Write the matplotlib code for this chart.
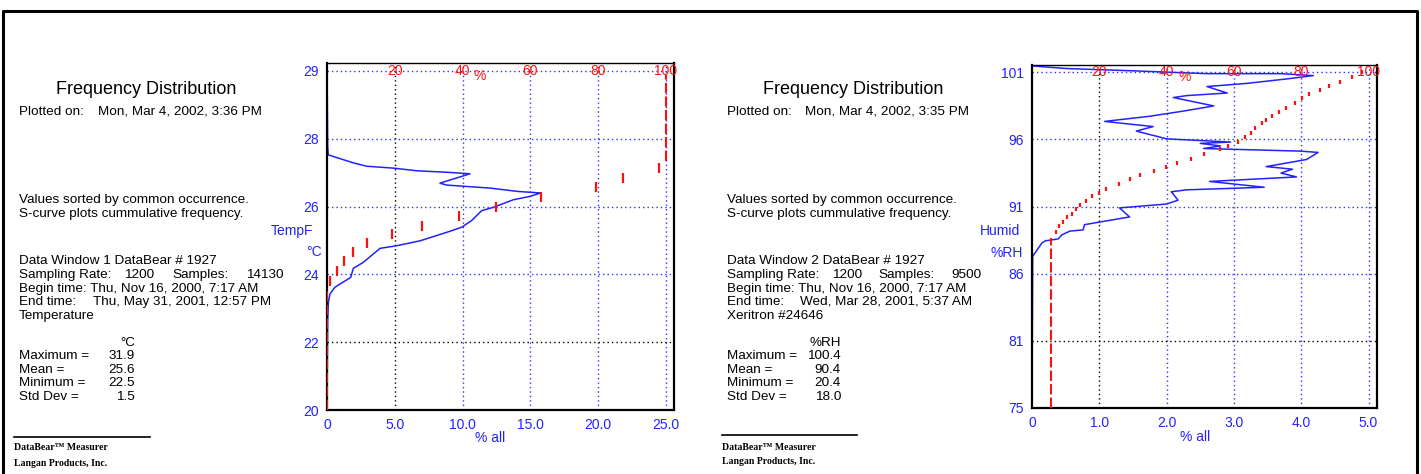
import matplotlib
matplotlib.use('Agg')
import matplotlib.pyplot as plt
import numpy as np
from matplotlib.lines import Line2D

# ---------------- data: left panel (temperature) ----------------
temp_freq_pct = [0.0, 0.05, 0.1, 1.94, 2.93, 4.89, 6.61, 8.83, 10.55, 8.33, 8.83, 12.02, 14.1, 15.76,
                 14.97, 13.74, 12.27, 11.4, 10.67, 9.93, 8.95, 6.86, 5.14, 3.91, 2.68, 1.94, 1.75,
                 0.59, 0.22, 0.1, 0.05, 0.0]
temp_freq_y = [29.2, 27.0, 26.77, 26.56, 26.47, 26.42, 26.35, 26.31, 26.27, 26.02, 25.97, 25.89, 25.80,
               25.76, 25.67, 25.58, 25.38, 25.29, 25.03, 24.85, 24.73, 24.49, 24.36, 24.29, 23.92,
               23.76, 23.52, 23.26, 23.08, 22.86, 22.37, 20.0]
temp_cum_pct = [0.9, 3.0, 5.0, 7.8, 11.7, 19.1, 27.9, 39.0, 49.9, 63.1, 79.3, 87.2, 97.9]
temp_cum_y = [23.43, 23.68, 23.95, 24.19, 24.42, 24.66, 24.89, 25.15, 25.40, 25.66, 25.91, 26.16, 26.42]
temp_cum_low = ([0.0, 0.0], [20.0, 23.2])
temp_cum_high = ([100.0, 100.0], [26.6, 28.9])
temp_yrange = (20.0, 29.0)
temp_ytick_labels = ["20", "22", "24", "26", "28", "29"]
temp_xticks = [0, 5, 10, 15, 20, 25]
temp_xtick_labels = ["0", "5.0", "10.0", "15.0", "20.0", "25.0"]

# ---------------- data: right panel (humidity) ----------------
hum_freq_pct = [0.0, 0.5, 1.6, 2.6, 3.7, 4.18, 3.8, 3.2, 2.6, 2.9, 2.3, 2.1, 2.7, 2.25, 1.75, 1.08,
                1.8, 1.55, 2.0, 2.95, 2.5, 2.8, 2.55, 3.98, 4.25, 4.08, 3.48, 3.87, 3.7, 3.93, 2.64,
                3.45, 2.3, 2.07, 2.17, 2.0, 1.3, 1.45, 1.0, 0.78, 0.76, 0.56, 0.44, 0.39, 0.2, 0.15,
                0.01, 0.0]
hum_freq_y = [101.9, 101.7, 101.5, 101.3, 101.3, 101.15, 100.9, 100.55, 100.3, 99.8, 99.6, 99.45,
              98.8, 98.4, 98.0, 97.6, 97.2, 96.85, 96.25, 96.0, 95.9, 95.7, 95.5, 95.3, 95.2, 94.65,
              94.1, 93.9, 93.6, 93.3, 92.95, 92.5, 92.3, 92.15, 91.5, 91.2, 90.9, 90.2, 89.8, 89.6,
              89.2, 89.1, 88.8, 88.5, 88.35, 88.2, 87.15, 75.4]
hum_cum_pct = [7.0, 8.0, 9.2, 10.4, 12.0, 13.2, 14.2, 15.9, 17.9, 20.0, 22.1, 26.0, 29.2, 32.0, 36.2,
               39.9, 43.2, 47.3, 51.2, 56.0, 58.2, 61.2, 63.3, 65.2, 66.2, 68.2, 69.4, 71.4, 73.4,
               75.4, 78.3, 80.3, 82.3, 85.5, 88.2, 91.4, 95.2, 98.2]
hum_cum_y = [89.0, 89.46, 89.77, 90.16, 90.42, 90.8, 91.14, 91.44, 91.8, 92.07, 92.4, 92.78, 93.12,
             93.43, 93.77, 94.1, 94.36, 94.67, 95.09, 95.43, 95.7, 96.04, 96.37, 96.73, 97.07, 97.46,
             97.72, 98.03, 98.36, 98.62, 99.06, 99.39, 99.7, 100.04, 100.35, 100.63, 101.07, 101.46]
hum_cum_low = ([5.7, 5.7], [75.4, 88.6])
hum_yrange = (75.4, 101.4)
hum_ytick_labels = ["75", "81", "86", "91", "96", "101"]
hum_xticks = [0, 1, 2, 3, 4, 5]
hum_xtick_labels = ["0", "1.0", "2.0", "3.0", "4.0", "5.0"]

pct_labels = ["20", "40", "60", "80", "100"]
pct_values = [20, 40, 60, 80, 100]

# ---------------- style ----------------
W, H = 1421, 474
BLUE = '#2222ff'
RED = '#ff1010'
FONT = 'Liberation Sans'
FS = 9.7

fig = plt.figure(figsize=(W / 100, H / 100), dpi=100)
fig.patch.set_facecolor('white')


def px(x, y):
    return x / W, 1 - y / H


def ftext(x, y, s, ha='left', size=FS, color='black', **kw):
    fx, fy = px(x, y)
    fig.text(fx, fy, s, ha=ha, va='center', fontsize=size, color=color, family=FONT, **kw)


def make_panel(left, top, right, bottom, xmax_tick, xlim_max, yrange, ylim_top,
               freq_pct, freq_y, cum_pct, cum_y, cum_lines, xticks, xtick_labels,
               ytick_labels, pct_sym_pos, mark_size):
    x0, y1 = px(left, top)
    x1, y0 = px(right, bottom)
    ax = fig.add_axes([x0, y0, x1 - x0, y1 - y0])
    ax.set_xlim(0, xlim_max)
    ax.set_ylim(yrange[0], ylim_top)
    yticks = np.linspace(yrange[0], yrange[1], 6)
    ax.set_yticks(yticks)
    ax.set_yticklabels(ytick_labels)
    ax.set_xticks(xticks)
    ax.set_xticklabels(xtick_labels)
    ax.tick_params(length=0, colors=BLUE, labelsize=10, pad=6)
    for lab in ax.get_xticklabels() + ax.get_yticklabels():
        lab.set_family(FONT)
    for s in ax.spines.values():
        s.set_color('black')
        s.set_linewidth(1.6)
        s.set_zorder(5)
    ax.spines['top'].set_linewidth(1.0)
    # grid lines
    for i, xv in enumerate(xticks[1:]):
        ax.axvline(xv, color='black' if i == 0 else '#3030ff', lw=1.0,
                   linestyle=(0, (1, 2.2)), zorder=1)
    for i, yv in enumerate(yticks[1:]):
        ax.axhline(yv, color='black' if i == 0 else '#3030ff', lw=1.0,
                   linestyle=(0, (1, 2.2)), zorder=1)
    # frequency curve
    ax.plot(freq_pct, freq_y, color=BLUE, lw=1.1, zorder=3)
    # cumulative (top scale, percent)
    ax2 = ax.twiny()
    ax2.set_xlim(0, xlim_max / xmax_tick * 100)
    ax2.set_ylim(ax.get_ylim())
    ax2.set_xticks([])
    for s in ax2.spines.values():
        s.set_visible(False)
    ax2.plot(cum_pct, cum_y, linestyle='none', marker='|', markersize=mark_size,
             markeredgewidth=1.6, color=RED, zorder=4)
    for xs, ys in cum_lines:
        ax2.plot(xs, ys, color=RED, lw=1.5, linestyle=(0, (5, 1.5)), zorder=4)
    for lab, v in zip(pct_labels, pct_values):
        ax2.text(v, yrange[1], lab, color=RED, ha='center', va='center',
                 fontsize=10, family=FONT, zorder=6)
    ax2.text(pct_sym_pos[0], pct_sym_pos[1], '%', color=RED, ha='center', va='center',
             fontsize=10, family=FONT, transform=ax.transAxes)
    return ax


make_panel(327, 63, 674, 410, 25.0, 25.59, temp_yrange, 29.21,
           temp_freq_pct, temp_freq_y, temp_cum_pct, temp_cum_y,
           [temp_cum_low, temp_cum_high], temp_xticks, temp_xtick_labels,
           temp_ytick_labels, (0.441, 0.962), 7)
make_panel(1032, 65, 1377, 408, 5.0, 5.126, hum_yrange, 101.97,
           hum_freq_pct, hum_freq_y, hum_cum_pct, hum_cum_y,
           [hum_cum_low], hum_xticks, hum_xtick_labels,
           hum_ytick_labels, (0.443, 0.966), 3.5)

# axis labels
ftext(313, 231, 'TempF', ha='right', color=BLUE, size=10)
ftext(322, 252, '°C', ha='right', color=BLUE, size=10)
ftext(490, 438, '% all', ha='center', color=BLUE, size=10)
ftext(1020, 231, 'Humid', ha='right', color=BLUE, size=10)
ftext(1023, 253, '%RH', ha='right', color=BLUE, size=10)
ftext(1195, 437, '% all', ha='center', color=BLUE, size=10)

# ---------------- text blocks ----------------
def block(x0, title_cx, plotted, dw, rate, samples, samples_x, samples_right, begin,
          end_lbl_x, end_time, sensor, unit, stats, val_right, plotted_x):
    ftext(title_cx, 90, 'Frequency Distribution', ha='center', size=13.0)
    ftext(x0, 112, 'Plotted on:')
    ftext(plotted_x, 112, plotted)
    ftext(x0, 200, 'Values sorted by common occurrence.')
    ftext(x0, 214, 'S-curve plots cummulative frequency.')
    ftext(x0, 261, dw)
    ftext(x0, 275, 'Sampling Rate:')
    ftext(samples_x[0], 275, rate)
    ftext(samples_x[1], 275, 'Samples:')
    ftext(samples_right, 275, samples, ha='right')
    ftext(x0, 289, begin)
    ftext(x0, 302, 'End time:')
    ftext(end_lbl_x, 302, end_time)
    ftext(x0, 316, sensor)
    ftext(val_right, 343, unit, ha='right')
    for i, (lbl, v) in enumerate(stats):
        y = 356 + i * 13.7
        ftext(x0, y, lbl)
        ftext(val_right, y, v, ha='right')


block(19, 146, 'Mon, Mar 4, 2002, 3:36 PM', 'Data Window 1 DataBear # 1927', '1200', '14130',
      (124, 172), 284, 'Begin time: Thu, Nov 16, 2000, 7:17 AM', 93,
      'Thu, May 31, 2001, 12:57 PM', 'Temperature', '°C',
      [('Maximum =', '31.9'), ('Mean =', '25.6'), ('Minimum =', '22.5'), ('Std Dev =', '1.5')],
      135, 98)
block(727, 853, 'Mon, Mar 4, 2002, 3:35 PM', 'Data Window 2 DataBear # 1927', '1200', '9500',
      (832, 878), 982, 'Begin time: Thu, Nov 16, 2000, 7:17 AM', 800,
      'Wed, Mar 28, 2001, 5:37 AM', 'Xeritron #24646', '%RH',
      [('Maximum =', '100.4'), ('Mean =', '90.4'), ('Minimum =', '20.4'), ('Std Dev =', '18.0')],
      841, 805)

# footers
for (xa, xb, yl, yt1, yt2) in [(14, 150, 437, 448, 463), (722, 857, 435, 447, 462)]:
    fig.add_artist(Line2D([xa / W, xb / W], [1 - yl / H, 1 - yl / H], color='black', lw=1.2))
    fig.text(xa / W, 1 - yt1 / H, 'DataBear™ Measurer', ha='left', va='center',
             fontsize=7, family='Liberation Serif', fontweight='bold')
    fig.text(xa / W, 1 - yt2 / H, 'Langan Products, Inc.', ha='left', va='center',
             fontsize=7, family='Liberation Serif', fontweight='bold')

# outer frame
fig.add_artist(Line2D([3 / W, 3 / W, 1417 / W, 1417 / W],
                      [0, 1 - 11 / H, 1 - 11 / H, 0], color='black', lw=2.2))

fig.savefig('out.png', dpi=100, facecolor='white')
